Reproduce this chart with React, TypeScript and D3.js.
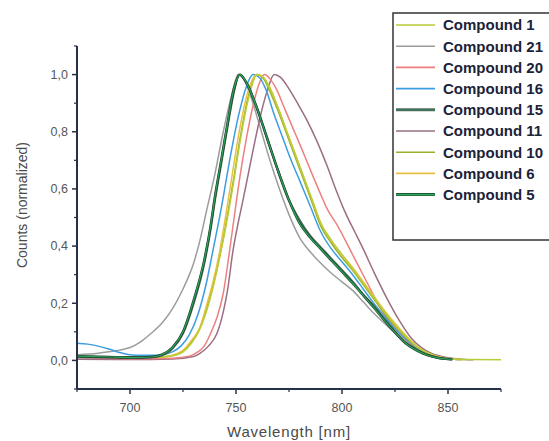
import React from "react";
import * as d3 from "d3";

const W = 549;
const H = 441;

const xTicks = [700, 750, 800, 850];
const xMinor = [675, 725, 775, 825, 875];
const yTicks = [0, 0.2, 0.4, 0.6, 0.8, 1.0];
const yMinor = [-0.1, 0.1, 0.3, 0.5, 0.7, 0.9, 1.1];

const names = ["Compound 1", "Compound 21", "Compound 20", "Compound 16", "Compound 15", "Compound 11", "Compound 10", "Compound 6", "Compound 5"];
const colors = ["#b9cd35", "#9c9c9c", "#ee8080", "#3d9de0", "#2f7a55", "#9a6e84", "#98b02c", "#e8c040", "#2aa85a"];
const outlines = [null, null, null, null, "#5f6762", null, null, null, "#1f3d2c"];

// [wavelength nm, normalized counts]
const c1: [number, number][] = [[675,0.014],[690,0.012],[700,0.011],[715,0.012],[720,0.016],[725,0.03],[729,0.06],[733,0.11],[736,0.17],[739,0.25],[743,0.385],[746,0.5],[749,0.63],[752,0.77],[756,0.92],[760,1.0],[763,0.99],[766,0.95],[770,0.88],[774,0.8],[778,0.72],[782,0.64],[786,0.56],[790,0.48],[795,0.42],[800,0.37],[805,0.32],[810,0.27],[815,0.22],[820,0.17],[825,0.125],[830,0.085],[835,0.05],[840,0.028],[845,0.014],[850,0.007],[860,0.003],[875,0.002]];
const c21: [number, number][] = [[675,0.02],[685,0.025],[690,0.03],[695,0.036],[700,0.045],[705,0.065],[710,0.095],[715,0.13],[720,0.18],[725,0.25],[730,0.34],[733,0.42],[736,0.52],[740,0.65],[744,0.8],[748,0.93],[751,1.0],[754,0.98],[758,0.9],[762,0.8],[766,0.7],[770,0.61],[775,0.51],[780,0.43],[785,0.38],[790,0.34],[795,0.305],[800,0.275],[805,0.245],[810,0.205],[815,0.165],[820,0.13],[825,0.095],[830,0.06],[835,0.035],[840,0.018],[845,0.008],[852,0.003]];
const c20: [number, number][] = [[675,0.01],[700,0.006],[720,0.008],[728,0.015],[732,0.03],[735,0.05],[738,0.094],[741,0.15],[744,0.235],[747,0.385],[749.5,0.52],[752,0.65],[755,0.78],[758,0.89],[761,0.97],[763.5,1.0],[766,0.985],[769,0.95],[773,0.88],[777,0.81],[781,0.74],[786,0.65],[790,0.58],[793,0.53],[798,0.47],[805,0.37],[812,0.27],[818,0.185],[826,0.105],[832,0.058],[837,0.035],[842,0.018],[848,0.008],[856,0.003]];
const c16: [number, number][] = [[675,0.06],[680,0.057],[685,0.05],[690,0.04],[695,0.028],[700,0.02],[705,0.018],[710,0.018],[715,0.02],[720,0.03],[724,0.05],[728,0.09],[732,0.16],[736,0.27],[739,0.38],[743,0.53],[747,0.7],[751,0.85],[755,0.96],[758,1.0],[761,0.99],[764,0.95],[768,0.86],[772,0.78],[776,0.7],[780,0.63],[785,0.54],[790,0.45],[795,0.39],[800,0.345],[805,0.3],[810,0.25],[815,0.2],[820,0.155],[825,0.11],[830,0.075],[835,0.045],[840,0.024],[845,0.012],[850,0.006],[856,0.003]];
const c15: [number, number][] = [[675,0.012],[690,0.011],[700,0.01],[710,0.012],[715,0.018],[720,0.042],[725,0.095],[730,0.2],[735,0.34],[738,0.46],[740,0.56],[743,0.69],[746,0.82],[749,0.94],[751.5,1.0],[755,0.97],[760,0.88],[765,0.77],[770,0.66],[775,0.56],[780,0.49],[785,0.435],[790,0.395],[795,0.355],[800,0.315],[805,0.275],[810,0.23],[815,0.19],[820,0.145],[825,0.1],[830,0.062],[835,0.038],[840,0.02],[845,0.01],[852,0.004]];
const c11: [number, number][] = [[675,0.004],[700,0.003],[720,0.005],[730,0.014],[733,0.025],[737,0.05],[741,0.094],[744,0.17],[746,0.245],[748.6,0.385],[751,0.48],[753,0.55],[756,0.66],[759,0.77],[762,0.87],[765,0.95],[768,1.0],[771,0.99],[775,0.95],[779,0.9],[783.5,0.84],[788,0.77],[793,0.68],[797,0.6],[802,0.51],[806,0.45],[810,0.39],[815,0.31],[821,0.22],[827,0.14],[833,0.075],[838,0.042],[842,0.025],[848,0.012],[855,0.005],[862,0.002]];
const c10: [number, number][] = [[675,0.013],[690,0.012],[700,0.011],[715,0.012],[720,0.017],[725,0.032],[729,0.065],[733,0.115],[736,0.18],[739,0.26],[743,0.39],[746,0.51],[749,0.64],[752,0.78],[756,0.93],[759.5,1.0],[763,0.985],[766,0.94],[770,0.87],[774,0.79],[778,0.71],[782,0.63],[786,0.55],[790,0.47],[795,0.41],[800,0.36],[805,0.315],[810,0.265],[815,0.215],[820,0.165],[825,0.12],[830,0.08],[835,0.048],[840,0.026],[845,0.013],[850,0.006],[857,0.003]];
const c6: [number, number][] = [[675,0.012],[690,0.011],[700,0.01],[715,0.012],[720,0.018],[725,0.035],[729,0.07],[733,0.115],[736,0.19],[739,0.27],[742,0.37],[745,0.5],[748,0.64],[752,0.82],[756,0.95],[760,1.0],[763,0.99],[766,0.955],[770,0.88],[774,0.8],[778,0.72],[782,0.64],[786,0.56],[790,0.48],[795,0.42],[800,0.37],[805,0.325],[810,0.275],[815,0.225],[820,0.175],[825,0.13],[830,0.088],[835,0.052],[840,0.028],[845,0.014],[850,0.007],[857,0.003]];
const c5: [number, number][] = [[675,0.015],[690,0.012],[700,0.01],[710,0.012],[715,0.02],[720,0.045],[725,0.1],[730,0.21],[735,0.35],[738,0.47],[740,0.57],[743,0.7],[746,0.83],[749,0.95],[752,1.0],[755,0.97],[760,0.88],[765,0.77],[770,0.66],[775,0.56],[780,0.48],[785,0.43],[790,0.39],[795,0.35],[800,0.31],[805,0.27],[810,0.228],[815,0.185],[820,0.14],[825,0.098],[830,0.06],[835,0.036],[840,0.019],[845,0.009],[852,0.004]];

const series = [c1, c21, c20, c16, c15, c11, c10, c6, c5];
const drawOrder = [1, 5, 2, 3, 6, 7, 0, 4, 8];

const axisColor = "#27304a";
const font = "'Liberation Sans', Arial, sans-serif";

export default function App() {
  const x = d3.scaleLinear().domain([675, 875]).range([77, 501]);
  const y = d3.scaleLinear().domain([-0.1, 1.1]).range([389, 46]);
  const line = d3
    .line<[number, number]>()
    .x((d) => x(d[0]))
    .y((d) => y(d[1]))
    .curve(d3.curveMonotoneX);

  const legX = 393;
  const legY = 13;
  const rowY = (i: number) => 25 + i * 21.2;

  return (
    <svg
      width={W}
      height={H}
      style={{ position: "absolute", left: 0, top: 0, background: "#fff" }}
    >
      <rect width={W} height={H} fill="#fff" />
      {/* curves */}
      <g fill="none" strokeLinejoin="round">
        {drawOrder.map((i) => (
          <g key={i}>
            {outlines[i] && (
              <path d={line(series[i]) || ""} stroke={outlines[i] as string} strokeWidth={2.4} />
            )}
            <path d={line(series[i]) || ""} stroke={colors[i]} strokeWidth={outlines[i] ? 1.2 : 1.5} />
          </g>
        ))}
      </g>
      {/* y axis */}
      <line x1={x(675)} x2={x(675)} y1={y(1.1)} y2={y(-0.1)} stroke={axisColor} strokeWidth={2} />
      {yTicks.map((t) => (
        <g key={"y" + t}>
          <line x1={x(675) - 5} x2={x(675)} y1={y(t)} y2={y(t)} stroke={axisColor} strokeWidth={1.5} />
          <text
            x={x(675) - 9}
            y={y(t)}
            dy="0.35em"
            textAnchor="end"
            fontFamily={font}
            fontSize={12.5}
            fill="#555"
          >
            {t.toFixed(1).replace(".", ",")}
          </text>
        </g>
      ))}
      {yMinor.map((t) => (
        <line key={"ym" + t} x1={x(675) - 3} x2={x(675)} y1={y(t)} y2={y(t)} stroke={axisColor} strokeWidth={1.2} />
      ))}
      {/* x axis */}
      <line x1={x(675)} x2={x(875)} y1={y(-0.1)} y2={y(-0.1)} stroke={axisColor} strokeWidth={2} />
      {xTicks.map((t) => (
        <g key={"x" + t}>
          <line x1={x(t)} x2={x(t)} y1={y(-0.1)} y2={y(-0.1) + 5} stroke={axisColor} strokeWidth={1.5} />
          <text x={x(t)} y={y(-0.1) + 23} textAnchor="middle" fontFamily={font} fontSize={12.5} fill="#555">
            {t}
          </text>
        </g>
      ))}
      {xMinor.map((t) => (
        <line key={"xm" + t} x1={x(t)} x2={x(t)} y1={y(-0.1)} y2={y(-0.1) + 3} stroke={axisColor} strokeWidth={1.2} />
      ))}
      {/* axis titles */}
      <text
        x={x(775)}
        y={437}
        textAnchor="middle"
        fontFamily={font}
        fontSize={15}
        letterSpacing={0.8}
        fill="#4a4a4a"
      >
        Wavelength [nm]
      </text>
      <text
        transform={`translate(27, ${205}) rotate(-90)`}
        textAnchor="middle"
        fontFamily={font}
        fontSize={14}
        fill="#4a4a4a"
      >
        Counts (normalized)
      </text>
      {/* legend */}
      <rect x={legX} y={legY} width={200} height={240 - legY} fill="#fff" stroke="#333" strokeWidth={1.5} />
      {names.map((n, i) => (
        <g key={n}>
          {outlines[i] && (
            <line x1={396} x2={435} y1={rowY(i)} y2={rowY(i)} stroke={outlines[i] as string} strokeWidth={3} />
          )}
          <line x1={396} x2={435} y1={rowY(i)} y2={rowY(i)} stroke={colors[i]} strokeWidth={1.6} />
          <text
            x={443}
            y={rowY(i)}
            dy="0.36em"
            fontFamily={font}
            fontWeight="bold"
            fontSize={15}
            fill="#1c2238"
          >
            {n}
          </text>
        </g>
      ))}
    </svg>
  );
}
